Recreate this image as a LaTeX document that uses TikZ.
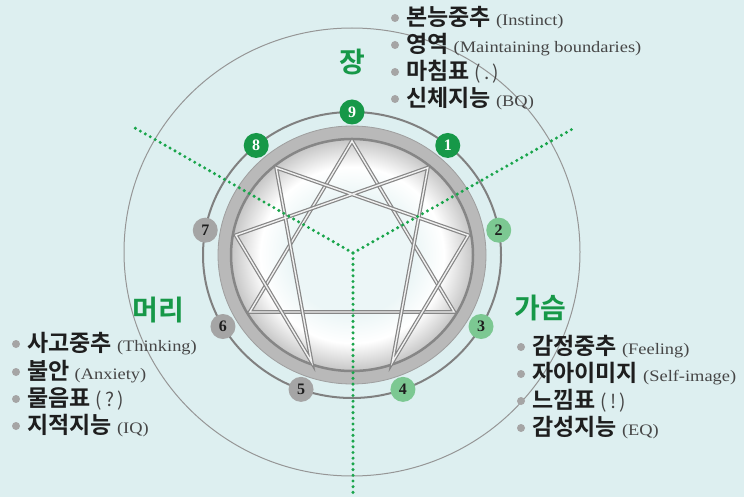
\documentclass[tikz,border=0pt]{standalone}
\usepackage{fontspec}
\setmainfont{Liberation Serif}
\newfontfamily\kr{Noto Sans CJK KR}[BoldFont={Noto Sans CJK KR Bold}]
\newfontfamily\en{Liberation Serif}[FakeStretch=1.15]
\usepackage{tikz}
\usetikzlibrary{calc}

\definecolor{bg}{RGB}{221,239,240}
\definecolor{dkgreen}{RGB}{22,152,72}
\definecolor{ltgreen}{RGB}{124,200,146}
\definecolor{ptgray}{RGB}{165,165,165}
\definecolor{ringgray}{RGB}{150,150,150}
\definecolor{txt}{RGB}{30,30,30}
\definecolor{entxt}{RGB}{70,70,70}
\definecolor{dotgreen}{RGB}{25,165,75}
\pgfdeclareradialshading{lens}{\pgfpoint{0bp}{0bp}}{color(0bp)=(bg!55!white); color(13bp)=(bg!55!white); color(19bp)=(white); color(25bp)=(gray!45); color(50bp)=(gray!45)}

\newcommand{\eng}[1]{{\en\mdseries\fontsize{16}{16}\selectfont\color{entxt}#1}}
\newcommand{\pun}[1]{{\kr\mdseries\fontsize{19}{19}\selectfont\color{entxt}#1}}

\tikzset{
  num/.style={circle, inner sep=0pt, minimum size=25pt, font=\bfseries\fontsize{16}{16}\selectfont},
  item/.style={anchor=west, inner sep=0pt, text=txt, font=\kr\bfseries\fontsize{23}{23}\selectfont},
  bullet/.style={circle, fill=ptgray, inner sep=0pt, minimum size=8pt},
  zone/.style={inner sep=0pt, text=dkgreen, font=\kr\bfseries\fontsize{28}{28}\selectfont},
  cutline/.style={dotgreen, line width=3.4pt, line cap=round, dash pattern=on 0pt off 5.7pt},
  fig/.style={draw=gray!95, line width=1.2pt, double=gray!12, double distance=1.4pt}
}

\begin{document}
\begin{tikzpicture}[x=1pt, y=-1pt]
  \fill[bg] (0,0) rectangle (744,497);
  \useasboundingbox (0,0) rectangle (744,497);

  \coordinate (c) at (352,255);
  \draw[ringgray, line width=1pt] (352,252) ellipse [x radius=228, y radius=224];
  \draw[ringgray!85!black, line width=2pt] (c) ellipse [x radius=149, y radius=143];

  % lens
  \fill[gray!55] (c) ellipse [x radius=134, y radius=129];
  \draw[gray!75, line width=0.8pt] (c) ellipse [x radius=134, y radius=129];
  \shade[shading=lens] (c) ellipse [x radius=121, y radius=116];
  \draw[gray!95, line width=2.5pt] (c) ellipse [x radius=121, y radius=116];

  \foreach \k in {0,...,8}
    \coordinate (v\k) at ($(c)+(40*\k-90:118 and 114)$);
  \draw[fig] (v0) -- (v3) -- (v6) -- cycle;
  \draw[fig] (v1) -- (v4) -- (v2) -- (v8) -- (v5) -- (v7) -- cycle;

  % centres
  \coordinate (hub) at (353,253);
  \coordinate (cut78) at (135,128);
  \coordinate (cut12) at (576,127);
  \coordinate (cut45) at (353,497);
  \draw[cutline] (hub) -- (cut78);
  \draw[cutline] (hub) -- (cut12);
  \draw[cutline] (hub) -- (cut45);

  \node[num, fill=dkgreen, text=white] (n9) at ($(c)+(-90:149 and 143)$) {9};
  \node[num, fill=dkgreen, text=white] (n1) at ($(c)+(-50:149 and 143)$) {1};
  \node[num, fill=ltgreen, text=txt] (n2) at ($(c)+(-10:149 and 143)$) {2};
  \node[num, fill=ltgreen, text=txt] (n3) at ($(c)+(30:149 and 143)$) {3};
  \node[num, fill=ltgreen, text=txt] (n4) at ($(c)+(70:149 and 143)$) {4};
  \node[num, fill=ptgray, text=txt] (n5) at ($(c)+(110:149 and 143)$) {5};
  \node[num, fill=ptgray, text=txt] (n6) at ($(c)+(150:149 and 143)$) {6};
  \node[num, fill=ptgray, text=txt] (n7) at ($(c)+(190:149 and 143)$) {7};
  \node[num, fill=dkgreen, text=white] (n8) at ($(c)+(230:149 and 143)$) {8};

  \node[zone] (gut) at (352,62) {장};
  \node[zone] (head) at (158,310) {머리};
  \node[zone] (heart) at (540,308) {가슴};

  \node[bullet] (bt1) at (395,18) {};
  \node[bullet] (bt2) at (395,45) {};
  \node[bullet] (bt3) at (395,72) {};
  \node[bullet] (bt4) at (395,99) {};
  \node[item] (t1) at (406,18) {본능중추 \eng{(Instinct)}};
  \node[item] (t2) at (406,45) {영역 \eng{(Maintaining boundaries)}};
  \node[item] (t3) at (406,72) {마침표 \pun{(\,.\,)}};
  \node[item] (t4) at (406,99) {신체지능 \eng{(BQ)}};

  \node[bullet] (bl1) at (16,344) {};
  \node[bullet] (bl2) at (16,372) {};
  \node[bullet] (bl3) at (16,399) {};
  \node[bullet] (bl4) at (16,426) {};
  \node[item] (l1) at (27,344) {사고중추 \eng{(Thinking)}};
  \node[item] (l2) at (27,372) {불안 \eng{(Anxiety)}};
  \node[item] (l3) at (27,399) {물음표 \pun{(\,?\,)}};
  \node[item] (l4) at (27,426) {지적지능 \eng{(IQ)}};

  \node[bullet] (br1) at (521,347) {};
  \node[bullet] (br2) at (521,374) {};
  \node[bullet] (br3) at (521,401) {};
  \node[bullet] (br4) at (521,428) {};
  \node[item] (r1) at (532,347) {감정중추 \eng{(Feeling)}};
  \node[item] (r2) at (532,374) {자아이미지 \eng{(Self-image)}};
  \node[item] (r3) at (532,401) {느낌표 \pun{(\,!\,)}};
  \node[item] (r4) at (532,428) {감성지능 \eng{(EQ)}};
\end{tikzpicture}
\end{document}
